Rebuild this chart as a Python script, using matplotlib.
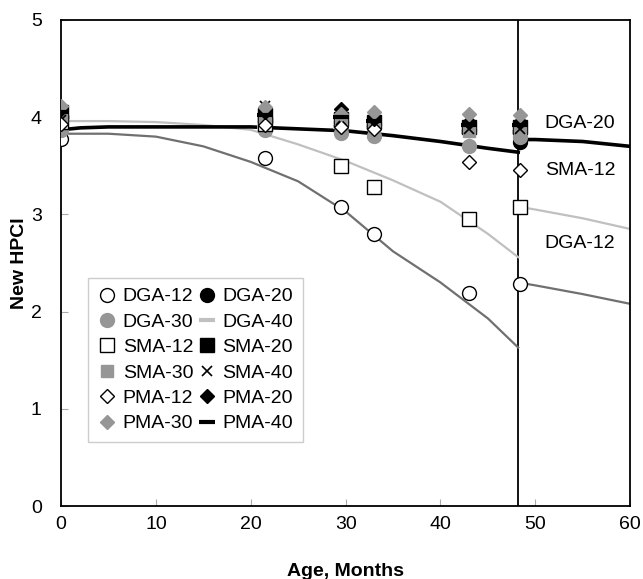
import matplotlib
matplotlib.use("Agg")
import matplotlib.pyplot as plt

plt.rcParams['font.family'] = ['Liberation Sans', 'DejaVu Sans']

# Measurement ages (months)
ages = [0, 21.5, 29.5, 33, 43, 48.4]

# Measured HPCI by section
dga12 = [3.78, 3.58, 3.08, 2.80, 2.19, 2.28]
dga20 = [4.00, 3.95, 3.95, 3.93, 3.87, 3.74]
dga30 = [3.87, 3.87, 3.84, 3.81, 3.70, 3.80]
dga40 = [3.95, 3.90, 3.90, 3.90, 3.85, 3.85]
sma12 = [3.95, 3.93, 3.50, 3.28, 2.95, 3.08]
sma20 = [4.05, 4.02, 3.98, 3.95, 3.90, 3.90]
sma30 = [4.00, 3.97, 3.93, 3.92, 3.86, 3.87]
sma40 = [3.97, 4.12, 3.97, 3.93, 3.88, 3.88]
pma12 = [3.93, 3.92, 3.90, 3.88, 3.54, 3.46]
pma20 = [4.08, 4.05, 4.08, 3.98, 3.95, 3.95]
pma30 = [4.12, 4.10, 4.03, 4.05, 4.03, 4.02]
pma40 = [4.05, 4.02, 4.00, 3.96, 3.92, 3.92]

# Model curves (before and after rehabilitation at 48.2 months)
curve_x1 = [0, 2, 5, 10, 15, 20, 25, 30, 35, 40, 45, 48.2]
dga20_c1 = [3.87, 3.89, 3.90, 3.90, 3.90, 3.90, 3.88, 3.86, 3.81, 3.75, 3.68, 3.64]
sma12_c1 = [3.96, 3.96, 3.96, 3.95, 3.92, 3.87, 3.72, 3.55, 3.35, 3.13, 2.80, 2.56]
dga12_c1 = [3.83, 3.83, 3.83, 3.80, 3.70, 3.54, 3.34, 3.03, 2.62, 2.30, 1.93, 1.63]
curve_x2 = [48.2, 50, 55, 60]
dga20_c2 = [3.77, 3.77, 3.75, 3.70]
sma12_c2 = [3.08, 3.05, 2.96, 2.85]
dga12_c2 = [2.30, 2.27, 2.18, 2.08]

rehab_age = 48.2
curve_labels = ["DGA-20", "SMA-12", "DGA-12"]
curve_label_y = [3.93, 3.45, 2.70]

fig = plt.figure(figsize=(6.43, 5.79), dpi=100)
ax = fig.add_axes([0.095, 0.126, 0.885, 0.8395])

black = "#000000"
gray = "#969696"
lgray = "#c0c0c0"
dgray = "#707070"

# curves
ax.plot(curve_x1, sma12_c1, color=lgray, lw=1.6, zorder=2)
ax.plot(curve_x2, sma12_c2, color=lgray, lw=1.6, zorder=2)
ax.plot(curve_x1, dga12_c1, color=dgray, lw=1.6, zorder=2)
ax.plot(curve_x2, dga12_c2, color=dgray, lw=1.6, zorder=2)
ax.plot(curve_x1, dga20_c1, color=black, lw=2.6, zorder=2)
ax.plot(curve_x2, dga20_c2, color=black, lw=2.6, zorder=2)
ax.axvline(rehab_age, color=black, lw=1.3, zorder=1)

series = [
    ("DGA-12", dga12, dict(marker='o', mfc='white', mec=black, ms=10, mew=1.0)),
    ("DGA-20", dga20, dict(marker='o', mfc=black, mec=black, ms=10)),
    ("DGA-30", dga30, dict(marker='o', mfc=gray, mec=gray, ms=10)),
    ("DGA-40", dga40, dict(marker='_', mfc=lgray, mec=lgray, ms=11, mew=3)),
    ("SMA-12", sma12, dict(marker='s', mfc='white', mec=black, ms=9.5, mew=1.0)),
    ("SMA-20", sma20, dict(marker='s', mfc=black, mec=black, ms=9.5)),
    ("SMA-30", sma30, dict(marker='s', mfc=gray, mec=gray, ms=9)),
    ("SMA-40", sma40, dict(marker='x', mfc=black, mec=black, ms=7, mew=1.2)),
    ("PMA-12", pma12, dict(marker='D', mfc='white', mec=black, ms=7.5, mew=1.0)),
    ("PMA-20", pma20, dict(marker='D', mfc=black, mec=black, ms=7.5)),
    ("PMA-30", pma30, dict(marker='D', mfc=gray, mec=gray, ms=7.5)),
    ("PMA-40", pma40, dict(marker='_', mfc=black, mec=black, ms=11, mew=3)),
]
handles = []
for name, vals, st in series:
    h, = ax.plot(ages, vals, linestyle='none', label=name, zorder=3, **st)
    handles.append(h)

for lab, ly in zip(curve_labels, curve_label_y):
    ax.text(51, ly, lab, fontsize=14, va='center', ha='left')

ax.set_xlim(0, 60)
ax.set_ylim(0, 5)
ax.set_xticks(range(0, 61, 10))
ax.set_yticks(range(0, 6))
ax.tick_params(direction='in', labelsize=14, length=5, color='#aaaaaa', width=0.8)
ax.tick_params(axis='x', pad=7)
ax.tick_params(axis='y', pad=14)
for s in ax.spines.values():
    s.set_linewidth(1.3)
    s.set_color('black')

ax.set_xlabel("Age, Months", fontsize=14, fontweight='bold', labelpad=22)
ax.set_ylabel("New HPCI", fontsize=14, fontweight='bold', labelpad=2)

# reorder so legend reads row-wise in two columns
order = [0, 2, 4, 6, 8, 10, 1, 3, 5, 7, 9, 11]
hh = [handles[i] for i in order]
ll = [series[i][0] for i in order]
leg = ax.legend(hh, ll, loc='upper left', bbox_to_anchor=(0.047, 0.469), borderaxespad=0,
                ncol=2, fontsize=14, frameon=True, fancybox=False,
                handlelength=1.0, handletextpad=0.3, columnspacing=0.2,
                labelspacing=0.40, borderpad=0.5, numpoints=1)
leg.get_frame().set_edgecolor('#c0c0c0')
leg.get_frame().set_linewidth(1.0)

fig.savefig("out.png", dpi=100)
